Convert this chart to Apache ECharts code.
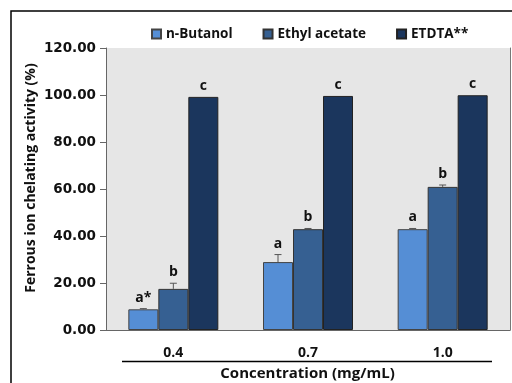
<!DOCTYPE html>
<html>
<head>
<meta charset="utf-8">
<script src="https://cdn.jsdelivr.net/npm/echarts@6/dist/echarts.min.js"></script>
<style>
  html, body { margin: 0; padding: 0; background: #ffffff; }
  #chart { width: 512px; height: 383px; }
</style>
</head>
<body>
<div id="chart"></div>
<script>
// Concentration groups
const categories = ['0.4', '0.7', '1.0'];

// Mean chelating activity (%) and standard deviation per extract
const butanol = [8.8, 28.9, 42.9];
const butanolErr = [0.3, 3.2, 0.3];
const ethyl = [17.5, 42.9, 60.9];
const ethylErr = [2.4, 0.3, 0.8];
const etdta = [99.2, 99.6, 99.9];
const etdtaErr = [0, 0, 0];

// Significance letters
const butanolLetters = ['a*', 'a', 'a'];
const ethylLetters = ['b', 'b', 'b'];
const etdtaLetters = ['c', 'c', 'c'];

const yTicks = { min: 0, max: 120, interval: 20 };

const seriesNames = ['n-Butanol', 'Ethyl acetate', 'ETDTA**'];
const colors = ['#558ED5', '#366092', '#1B365D'];
const FONT = '"Open Sans", "Noto Sans", sans-serif';
const NUM_FONT = '"DejaVu Sans", "Open Sans", sans-serif';
const BAR_W = 30;

const groups = [
  { values: butanol, err: butanolErr, letters: butanolLetters, offset: -1 },
  { values: ethyl, err: ethylErr, letters: ethylLetters, offset: 0 },
  { values: etdta, err: etdtaErr, letters: etdtaLetters, offset: 1 }
];

// Error bars with the significance letter above each bar
function errorSeries(g) {
  return {
    type: 'custom',
    z: 5,
    silent: true,
    data: categories.map((c, i) => [i, g.values[i], g.err[i]]),
    renderItem: function (params, api) {
      const i = api.value(0);
      const v = api.value(1);
      const e = api.value(2);
      const base = api.coord([i, v]);
      const x = base[0] + g.offset * BAR_W;
      const top = api.coord([i, v + e])[1];
      const children = [];
      if (e > 0) {
        children.push({
          type: 'line',
          shape: { x1: x, y1: base[1], x2: x, y2: top },
          style: { stroke: '#555555', lineWidth: 1 }
        });
        children.push({
          type: 'line',
          shape: { x1: x - 3.5, y1: top, x2: x + 3.5, y2: top },
          style: { stroke: '#555555', lineWidth: 1 }
        });
      }
      children.push({
        type: 'text',
        style: {
          x: x,
          y: top - 4,
          text: g.letters[i],
          textAlign: 'center',
          textVerticalAlign: 'bottom',
          font: 'bold 14px ' + FONT,
          fill: '#111111'
        }
      });
      return { type: 'group', children: children };
    }
  };
}

const chart = echarts.init(document.getElementById('chart'), null, { renderer: 'canvas' });

chart.setOption({
  animation: false,
  backgroundColor: '#ffffff',
  grid: {
    left: 106, top: 48, right: 2, bottom: 53,
    show: true, backgroundColor: '#E6E6E6', borderWidth: 0
  },
  legend: {
    data: seriesNames,
    left: 146, top: 22,
    itemWidth: 9, itemHeight: 9, itemGap: 30,
    icon: 'rect',
    textStyle: { fontFamily: FONT, fontWeight: 'bold', fontSize: 13.5, color: '#111' }
  },
  xAxis: {
    type: 'category',
    data: categories,
    axisLine: { lineStyle: { color: '#666666', width: 1 } },
    axisTick: { alignWithLabel: true, length: 5, lineStyle: { color: '#666666' } },
    axisLabel: { margin: 16, fontFamily: FONT, fontWeight: 'bold', fontSize: 14, color: '#111' },
    splitLine: { show: false }
  },
  yAxis: [
    {
      type: 'value',
      min: yTicks.min, max: yTicks.max, interval: yTicks.interval,
      axisLine: { show: true, lineStyle: { color: '#666666', width: 1 } },
      axisTick: { show: true, length: 6, lineStyle: { color: '#666666' } },
      axisLabel: {
        margin: 10,
        fontFamily: NUM_FONT, fontWeight: 'bold', fontSize: 13.5, color: '#111',
        formatter: v => v.toFixed(2)
      },
      splitLine: { show: false }
    },
    {
      type: 'value',
      position: 'right',
      min: yTicks.min, max: yTicks.max, interval: yTicks.interval,
      axisLine: { show: true, lineStyle: { color: '#777777', width: 1 } },
      axisTick: { show: false },
      axisLabel: { show: false },
      splitLine: { show: false }
    }
  ],
  series: [
    {
      name: seriesNames[0], type: 'bar', data: butanol, barWidth: BAR_W, barGap: '0%',
      itemStyle: { color: colors[0], borderColor: '#444444', borderWidth: 1 }
    },
    {
      name: seriesNames[1], type: 'bar', data: ethyl, barWidth: BAR_W, barGap: '0%',
      itemStyle: { color: colors[1], borderColor: '#333333', borderWidth: 1 }
    },
    {
      name: seriesNames[2], type: 'bar', data: etdta, barWidth: BAR_W, barGap: '0%',
      itemStyle: { color: colors[2], borderColor: '#222222', borderWidth: 1 }
    }
  ].concat(groups.map(errorSeries)),
  graphic: [
    {
      type: 'rect',
      shape: { x: 11, y: 11, width: 640, height: 520 },
      style: { fill: 'none', stroke: '#000000', lineWidth: 1.5 },
      silent: true
    },
    {
      type: 'line',
      shape: { x1: 122, y1: 361.5, x2: 492, y2: 361.5 },
      style: { stroke: '#000000', lineWidth: 1.5 },
      silent: true
    },
    {
      type: 'text',
      x: 307.5,
      y: 374,
      style: {
        text: 'Concentration (mg/mL)',
        textAlign: 'center',
        textVerticalAlign: 'middle',
        font: 'bold 15px ' + FONT,
        fill: '#111'
      },
      silent: true
    },
    {
      type: 'text',
      x: 31,
      y: 178,
      rotation: Math.PI / 2,
      style: {
        text: 'Ferrous ion chelating activity (%)',
        textAlign: 'center',
        textVerticalAlign: 'middle',
        font: 'bold 14px ' + FONT,
        fill: '#111'
      },
      silent: true
    }
  ]
});
</script>
</body>
</html>
